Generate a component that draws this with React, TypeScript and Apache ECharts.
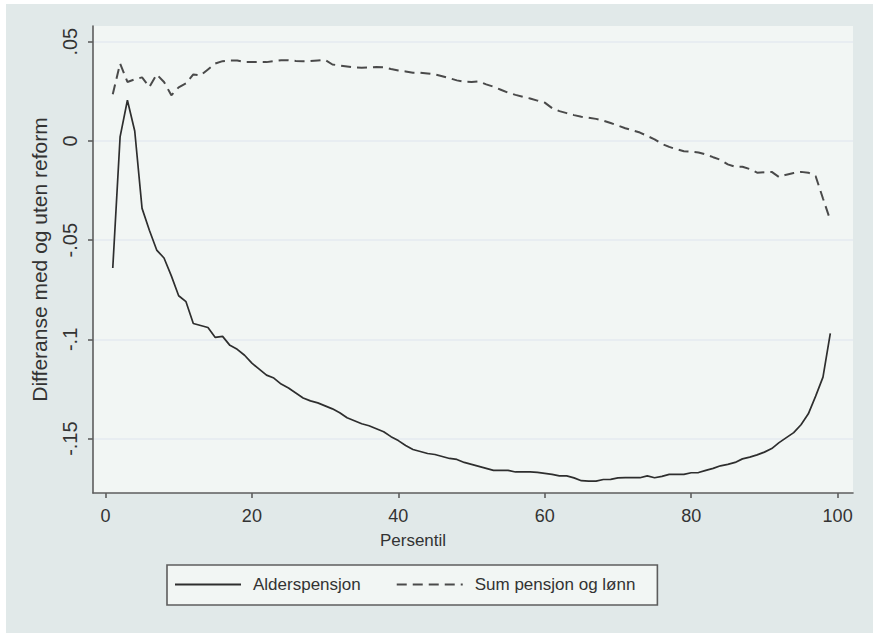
import React, { useEffect, useRef } from "react";
import * as echarts from "echarts";

// Percentiles 1..99 on the x axis
const percentiles: number[] = Array.from({ length: 99 }, (_, i) => i + 1);

// Difference with and without the reform, old-age pension
const alderspensjon: number[] = [
  -0.064, 0.002, 0.0205, 0.005, -0.034, -0.045, -0.055, -0.059, -0.068, -0.078,
  -0.081, -0.092, -0.093, -0.094, -0.099, -0.0985, -0.103, -0.105, -0.108, -0.112,
  -0.115, -0.118, -0.1195, -0.1225, -0.1245, -0.127, -0.1295, -0.131, -0.132, -0.1335,
  -0.135, -0.137, -0.1395, -0.141, -0.1425, -0.1435, -0.145, -0.1465, -0.149, -0.151,
  -0.1535, -0.1555, -0.1565, -0.1575, -0.158, -0.159, -0.16, -0.1605, -0.162, -0.163,
  -0.164, -0.165, -0.166, -0.166, -0.166, -0.1668, -0.1668, -0.1668, -0.167, -0.1675,
  -0.168, -0.1688, -0.1688, -0.1698, -0.1712, -0.1714, -0.1714, -0.1706, -0.1705, -0.1698,
  -0.1697, -0.1697, -0.1697, -0.1688, -0.1697, -0.169, -0.168, -0.168, -0.168, -0.1672,
  -0.1671, -0.166, -0.165, -0.1637, -0.163, -0.162, -0.1602, -0.1593, -0.1582, -0.1568,
  -0.155, -0.152, -0.1495, -0.147, -0.143, -0.1375, -0.1286, -0.119, -0.097,
];

// Difference with and without the reform, pension plus wages
const sumPensjonOgLonn: number[] = [
  0.0235, 0.039, 0.0297, 0.031, 0.032, 0.0272, 0.0335, 0.0297, 0.023, 0.027,
  0.029, 0.0335, 0.033, 0.036, 0.039, 0.0402, 0.0405, 0.0405, 0.0397, 0.0397,
  0.0398, 0.0397, 0.0402, 0.0407, 0.0407, 0.0403, 0.0402, 0.0402, 0.0405, 0.0408,
  0.0385, 0.038, 0.0375, 0.037, 0.0369, 0.037, 0.0372, 0.0371, 0.0362, 0.0355,
  0.035, 0.0344, 0.0344, 0.034, 0.0335, 0.0326, 0.0316, 0.0305, 0.0298, 0.0297,
  0.03, 0.0285, 0.0273, 0.0258, 0.0243, 0.0232, 0.0222, 0.0214, 0.0203, 0.0193,
  0.0165, 0.015, 0.014, 0.013, 0.0122, 0.0117, 0.0111, 0.0102, 0.009, 0.0077,
  0.0064, 0.0053, 0.0042, 0.0025, 0.0008, -0.0015, -0.003, -0.0042, -0.0052, -0.0054,
  -0.0058, -0.0068, -0.0082, -0.0095, -0.0118, -0.013, -0.013, -0.0142, -0.016, -0.0158,
  -0.0156, -0.0182, -0.017, -0.0162, -0.0156, -0.016, -0.0178, -0.029, -0.04,
];

const xTicks: number[] = [0, 20, 40, 60, 80, 100];
const yTicks: number[] = [-0.15, -0.1, -0.05, 0, 0.05];

const seriesNames: string[] = ["Alderspensjon", "Sum pensjon og lønn"];

const FONT = "'Liberation Sans', Arial, Helvetica, sans-serif";

// Stata-style number: drop the leading zero (.05, -.1)
function stataNum(v: number): string {
  const s = String(Number(v.toFixed(3)));
  return s.replace(/^(-?)0\./, "$1.");
}

export default function App() {
  const ref = useRef<HTMLDivElement>(null);

  useEffect(() => {
    if (!ref.current) return;
    const chart = echarts.init(ref.current, undefined, { renderer: "svg" });
    const axisColor = "#5d5d5d";
    const textColor = "#333333";

    chart.setOption({
      animation: false,
      backgroundColor: "#e1e9e9",
      grid: {
        left: 87,
        top: 22,
        right: 20,
        bottom: 140,
        show: true,
        backgroundColor: "#f2f6f4",
        borderWidth: 0,
      },
      xAxis: {
        type: "value",
        min: -1.7,
        max: 102.1,
        name: "Persentil",
        nameLocation: "middle",
        nameGap: 39,
        nameTextStyle: {
          fontFamily: FONT,
          fontSize: 17,
          color: textColor,
          padding: [0, 120, 0, 0],
        },
        axisLine: { show: true, onZero: false, lineStyle: { color: axisColor, width: 1.6 } },
        axisTick: {
          show: true,
          length: 5,
          inside: false,
          customValues: xTicks,
          lineStyle: { color: axisColor, width: 1.6 },
        },
        axisLabel: {
          customValues: xTicks,
          margin: 14,
          fontFamily: FONT,
          fontSize: 18,
          color: textColor,
          formatter: (v: number) => String(v),
        },
        splitLine: { show: false },
      },
      yAxis: {
        type: "value",
        min: -0.1774,
        max: 0.0579,
        name: "Differanse med og uten reform",
        nameLocation: "middle",
        nameGap: 43,
        nameTextStyle: { fontFamily: FONT, fontSize: 21, color: textColor },
        axisLine: { show: true, onZero: false, lineStyle: { color: axisColor, width: 1.6 } },
        axisTick: {
          show: true,
          length: 5,
          inside: false,
          customValues: yTicks,
          lineStyle: { color: axisColor, width: 1.6 },
        },
        axisLabel: {
          customValues: yTicks,
          rotate: 90,
          margin: 13,
          fontFamily: FONT,
          fontSize: 20,
          color: textColor,
          formatter: (v: number) => stataNum(v),
        },
        splitLine: {
          show: true,
          customValues: yTicks,
          lineStyle: { color: "#e4eaf1", width: 1.6 },
        },
      },
      legend: {
        left: 161,
        top: 561,
        orient: "horizontal",
        padding: [11, 22, 12, 7],
        itemGap: 35,
        itemWidth: 66,
        itemHeight: 14,
        backgroundColor: "#f2f6f4",
        borderColor: "#5d5d5d",
        borderWidth: 1.6,
        borderRadius: 0,
        itemStyle: { opacity: 0, borderWidth: 0 },
        textStyle: {
          fontFamily: FONT,
          fontSize: 17,
          color: textColor,
          padding: [0, 0, 0, 7],
        },
        data: seriesNames,
      },
      series: [
        {
          name: seriesNames[0],
          type: "line",
          symbol: "none",
          data: percentiles.map((p, i) => [p, alderspensjon[i]]),
          lineStyle: { color: "#2e2e2e", width: 1.7, type: "solid" },
          itemStyle: { color: "#2e2e2e" },
        },
        {
          name: seriesNames[1],
          type: "line",
          symbol: "none",
          data: percentiles.map((p, i) => [p, sumPensjonOgLonn[i]]),
          lineStyle: { color: "#4a4a4a", width: 2, type: [10, 6] },
          itemStyle: { color: "#4a4a4a" },
        },
      ],
    });

    return () => chart.dispose();
  }, []);

  return (
    <div style={{ position: "fixed", left: 0, top: 0, width: 873, height: 634, background: "#ffffff" }}>
      <div
        ref={ref}
        style={{ position: "absolute", left: 6, top: 4, width: 867, height: 629 }}
      />
    </div>
  );
}
